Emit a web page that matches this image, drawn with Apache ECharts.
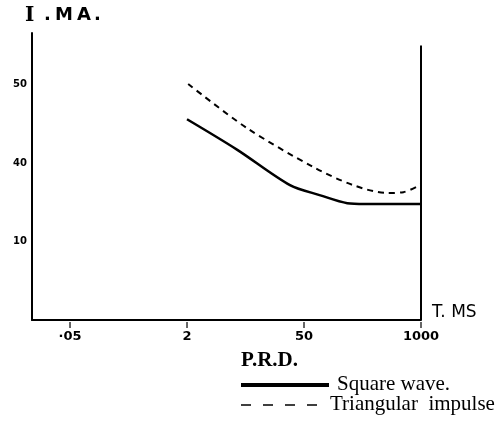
<!DOCTYPE html>
<html><head><meta charset="utf-8">
<script src="https://cdn.jsdelivr.net/npm/echarts@6/dist/echarts.min.js"></script>
<style>html,body{margin:0;padding:0;background:#fff}#c{width:496px;height:421px}</style>
</head><body><div id="c"></div>
<script>
// x positions are equally spaced tick slots: 0=".05", 1="2", 2="50", 3="1000"
var xTickValues = [0, 1, 2, 3];
var xTickLabels = ['\u00b705', '2', '50', '1000'];
var yTickValues = [30, 40, 50];
var yTickLabels = ['10', '40', '50'];
var squareX = [1.0, 1.43, 1.88, 2.14, 2.37, 2.52, 3.0];
var squareY = [45.6, 41.7, 37.2, 35.9, 34.9, 34.8, 34.8];
var triX = [1.01, 1.51, 2.08, 2.42, 2.71, 2.85, 3.0];
var triY = [50.1, 44.5, 39.5, 37.2, 36.2, 36.3, 37.3];
var yMin = 20;

function pairs(xs, ys){ return xs.map(function(x,i){return [x, ys[i]];}); }

var chart = echarts.init(document.getElementById('c'));
var handFont = '"DejaVu Sans", sans-serif';
chart.setOption({
  animation:false,
  grid:{left:32, top:33, right:75, bottom:101},
  xAxis:{type:'value', min:-0.325, max:3,
    axisLine:{onZero:false, lineStyle:{color:'#000', width:2}},
    axisTick:{show:false},
    splitLine:{show:false},
    axisLabel:{color:'#000', fontFamily:handFont, fontWeight:'bold', fontSize:13, margin:10,
      customValues:xTickValues,
      formatter:function(v){ var i=xTickValues.indexOf(Math.round(v)); return i>=0 ? xTickLabels[i] : ''; }}
  },
  yAxis:{type:'value', min:yMin, max:56.6,
    axisLine:{show:true, onZero:false, lineStyle:{color:'#000', width:2}},
    axisTick:{show:false}, splitLine:{show:false},
    axisLabel:{color:'#000', fontFamily:handFont, fontWeight:'bold', fontSize:10, margin:5,
      customValues:yTickValues,
      formatter:function(v){ var k=yTickValues.indexOf(Math.round(v)); return k>=0 ? yTickLabels[k] : ''; }}
  },
  series:[
    {type:'line', data:pairs(squareX, squareY), smooth:0.3, showSymbol:false,
      lineStyle:{color:'#000', width:2.5},
      markLine:{silent:true, symbol:'none', label:{show:false},
        lineStyle:{color:'#000', width:2, type:'solid'},
        data:[[{coord:[3,20]},{coord:[3,55]}]]}},
    {type:'line', data:pairs(triX, triY), smooth:0.3, showSymbol:false,
      lineStyle:{color:'#000', width:2, type:[6,5]}},
    {type:'scatter', data:xTickValues.map(function(v){return [v, yMin];}), clip:false, silent:true,
      symbol:'rect', symbolSize:[1.5,6], symbolOffset:[0,5], itemStyle:{color:'#000'}}
  ],
  graphic:[
    {type:'text', left:25, top:6, style:{text:'I', fill:'#000', font:'bold 20px "DejaVu Serif", serif'}},
    {type:'text', left:44, top:6, style:{text:'.', fill:'#000', font:'bold 18px "DejaVu Sans", sans-serif'}},
    {type:'text', left:55, top:6, style:{text:'M', fill:'#000', font:'bold 18px "DejaVu Sans", sans-serif'}},
    {type:'text', left:77, top:6, style:{text:'A', fill:'#000', font:'bold 18px "DejaVu Sans", sans-serif'}},
    {type:'text', left:94, top:6, style:{text:'.', fill:'#000', font:'bold 18px "DejaVu Sans", sans-serif'}},
    {type:'text', left:432, top:304, style:{text:'T. MS', fill:'#000', font:'17px "DejaVu Sans", sans-serif'}},
    {type:'text', left:241, top:350, style:{text:'P.R.D.', fill:'#000', font:'bold 21px "Liberation Serif", serif'}},
    {type:'line', shape:{x1:241, y1:385, x2:329, y2:385}, style:{stroke:'#000', lineWidth:4}},
    {type:'text', left:337, top:374, style:{text:'Square wave.', fill:'#000', font:'21px "Liberation Serif", serif'}},
    {type:'line', shape:{x1:241, y1:405, x2:317, y2:405}, style:{stroke:'#000', lineWidth:1.5, lineDash:[10,12]}},
    {type:'text', left:330, top:394, style:{text:'Triangular  impulse', fill:'#000', font:'21px "Liberation Serif", serif'}}
  ]
});
</script></body></html>
